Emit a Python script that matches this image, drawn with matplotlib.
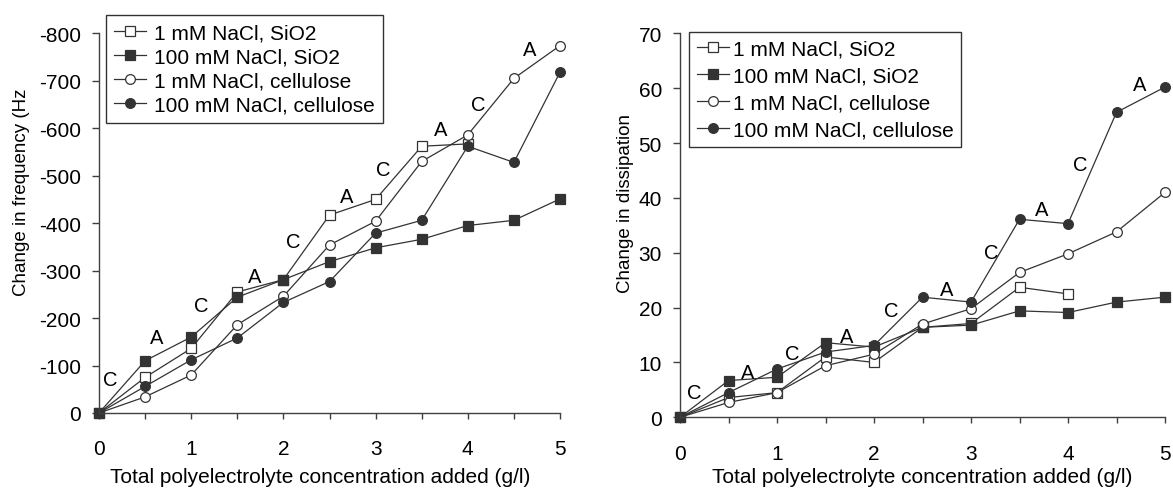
import matplotlib
matplotlib.use("Agg")
import matplotlib.pyplot as plt

plt.rcParams['font.family'] = ['Liberation Sans', 'DejaVu Sans']
plt.rcParams['axes.unicode_minus'] = False

x = [0, 0.5, 1, 1.5, 2, 2.5, 3, 3.5, 4, 4.5, 5]

labels = ["1 mM NaCl, SiO2", "100 mM NaCl, SiO2",
          "1 mM NaCl, cellulose", "100 mM NaCl, cellulose"]

# Left: change in frequency (Hz)
freq_1mM_sio2 = [0, -75, -136, -255, -281, -417, -450, -562, -567]
freq_100mM_sio2 = [0, -110, -160, -244, -281, -319, -348, -366, -395, -406, -451]
freq_1mM_cell = [0, -34, -80, -186, -246, -354, -404, -530, -586, -705, -774]
freq_100mM_cell = [0, -56, -112, -158, -233, -277, -379, -406, -562, -528, -718]

freq_ann_text = ["C", "A", "C", "A", "C", "A", "C", "A", "C", "A"]
freq_ann_x = [0.12, 0.63, 1.11, 1.69, 2.11, 2.69, 3.08, 3.71, 4.11, 4.67]
freq_ann_y = [-71, -159, -227, -287, -361, -457, -513, -597, -651, -765]

# Right: change in dissipation
diss_1mM_sio2 = [0, 3.6, 4.5, 11.0, 10.0, 16.4, 17.1, 23.7, 22.5]
diss_100mM_sio2 = [0, 6.7, 7.3, 13.6, 12.8, 16.4, 16.8, 19.4, 19.1, 21.0, 21.9]
diss_1mM_cell = [0, 2.7, 4.5, 9.4, 11.5, 17.0, 19.8, 26.4, 29.8, 33.8, 41.0]
diss_100mM_cell = [0, 4.5, 8.8, 11.9, 13.1, 21.9, 21.0, 36.1, 35.3, 55.6, 60.2]

diss_ann_text = ["C", "A", "C", "A", "C", "A", "C", "A", "C", "A"]
diss_ann_x = [0.15, 0.70, 1.16, 1.72, 2.18, 2.75, 3.21, 3.73, 4.13, 4.74]
diss_ann_y = [4.5, 8.2, 11.6, 14.7, 19.4, 23.3, 30.0, 37.9, 46.1, 60.6]

dark = '#333333'
styles = [dict(marker='s', mfc='white'), dict(marker='s', mfc=dark),
          dict(marker='o', mfc='white'), dict(marker='o', mfc=dark)]

fig = plt.figure(figsize=(11.73, 4.89), dpi=100)
ax1 = fig.add_axes([99/1173, 1-414/489, (560-99)/1173, (414-34.3)/489])
ax2 = fig.add_axes([680/1173, 1-418.3/489, (1165-680)/1173, (418.3-34.3)/489])

FS = 15
FS_YLAB = 13.5
FS_ANN = 14.5

def style_axes(ax):
    for s in ['top', 'right']:
        ax.spines[s].set_visible(False)
    for s in ['left', 'bottom']:
        ax.spines[s].set_color('#404040')
        ax.spines[s].set_linewidth(1.0)
    ax.set_xlim(0, 5)
    ax.set_xticks([0, 1, 2, 3, 4, 5])
    ax.set_xticks([0.5, 1.5, 2.5, 3.5, 4.5], minor=True)
    ax.tick_params(axis='x', which='both', direction='out', length=4, width=1.0,
                   color='#404040', labelsize=FS, pad=15)
    ax.tick_params(axis='y', direction='out', length=5, width=1.0,
                   color='#404040', labelsize=FS, pad=8)
    ax.set_xlabel("Total polyelectrolyte concentration added (g/l)", fontsize=FS)

series1 = [freq_1mM_sio2, freq_100mM_sio2, freq_1mM_cell, freq_100mM_cell]
series2 = [diss_1mM_sio2, diss_100mM_sio2, diss_1mM_cell, diss_100mM_cell]

for ax, series in [(ax1, series1), (ax2, series2)]:
    for lab, ys, st in zip(labels, series, styles):
        ax.plot(x[:len(ys)], ys, color=dark, lw=0.9, marker=st['marker'],
                mfc=st['mfc'], mec=dark, mew=0.9, ms=7, label=lab, clip_on=False)
    style_axes(ax)

ax1.xaxis.set_label_coords((320.5-99)/461, -(468-414)/379.7)
ax2.xaxis.set_label_coords(0.5, -(468-418.3)/384)

ax1.set_ylim(0, -800)
ax1.set_yticks(list(range(0, -801, -100)))
ax1.set_yticklabels([str(v) for v in range(0, -801, -100)])
ax1.set_ylabel("Change in frequency (Hz", fontsize=FS_YLAB, va='center')
ax1.yaxis.set_label_coords((21.7-99)/461, (414-192)/379.7)

ax2.set_ylim(0, 70)
ax2.set_yticks(list(range(0, 71, 10)))
ax2.set_ylabel("Change in dissipation", fontsize=FS_YLAB, va='center')
ax2.yaxis.set_label_coords((625-680)/485, (418.3-204)/384)

for t, xx, yy in zip(freq_ann_text, freq_ann_x, freq_ann_y):
    ax1.text(xx, yy, t, fontsize=FS_ANN, ha='center', va='center', color='black')
for t, xx, yy in zip(diss_ann_text, diss_ann_x, diss_ann_y):
    ax2.text(xx, yy, t, fontsize=FS_ANN, ha='center', va='center', color='black')

leg1 = fig.legend(handles=ax1.get_lines(), loc='upper left',
                  bbox_to_anchor=(105.7/1173, 1-16/489),
                  fontsize=FS, frameon=True, fancybox=False,
                  handlelength=1.55, handletextpad=0.35, borderpad=0.4,
                  labelspacing=0.24, borderaxespad=0)
leg2 = fig.legend(handles=ax2.get_lines(), loc='upper left',
                  bbox_to_anchor=(689.3/1173, 1-33.3/489),
                  fontsize=FS, frameon=True, fancybox=False,
                  handlelength=1.55, handletextpad=0.2, borderpad=0.35,
                  labelspacing=0.38, borderaxespad=0)
for leg in (leg1, leg2):
    leg.get_frame().set_edgecolor('black')
    leg.get_frame().set_linewidth(1.0)

fig.savefig("out.png", dpi=100)
